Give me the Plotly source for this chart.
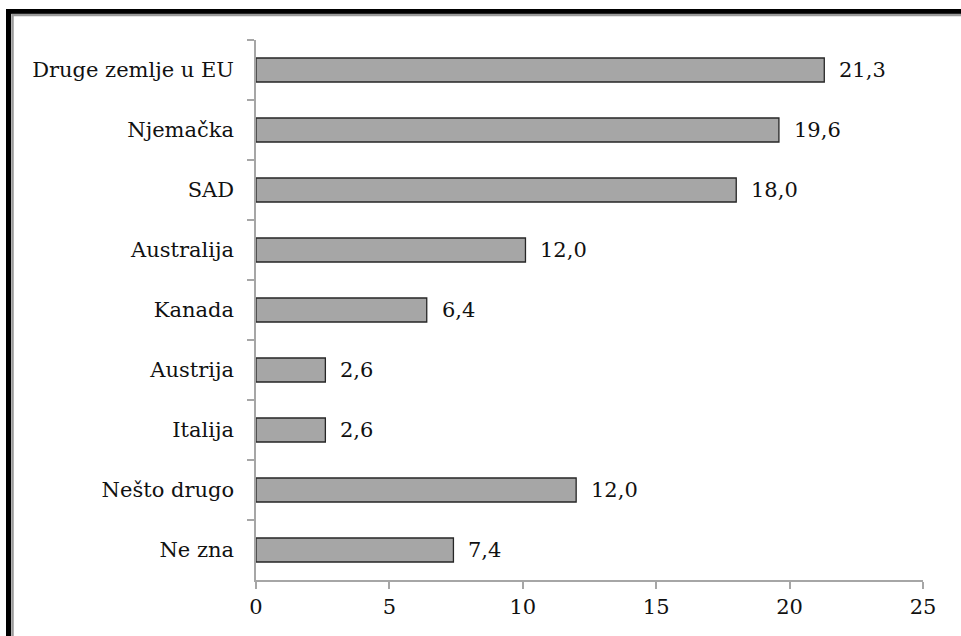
import plotly.graph_objects as go

# categories top to bottom
zemlje = ["Druge zemlje u EU", "Njemačka", "SAD", "Australija", "Kanada",
          "Austrija", "Italija", "Nešto drugo", "Ne zna"]
# bar lengths as drawn in the picture
vrijednosti = [21.3, 19.6, 18.0, 10.1, 6.4, 2.6, 2.6, 12.0, 7.4]
# labels printed next to the bars
oznake = ["21,3", "19,6", "18,0", "12,0", "6,4", "2,6", "2,6", "12,0", "7,4"]
x_ticks = [0, 5, 10, 15, 20, 25]

font_serif = "DejaVu Serif"
fs = 21

fig = go.Figure(go.Bar(
    y=zemlje,
    x=vrijednosti,
    orientation="h",
    marker=dict(color="#a6a6a6", line=dict(color="#262626", width=1.3)),
    width=0.4,
    hoverinfo="skip",
))

# value labels to the right of the bars
for z, v, o in zip(zemlje, vrijednosti, oznake):
    fig.add_annotation(x=v, y=z, text=o, showarrow=False, xanchor="left",
                       xshift=13, font=dict(family=font_serif, size=fs, color="#111"))

# left / top frame like the original screenshot (paper coords of plot area)
L, R, T, B = 256, 923, 40, 580
def px(x):
    return (x - L) / (R - L)
def py(y):
    return (B - y) / (B - T)

fig.add_shape(type="rect", xref="paper", yref="paper",
              x0=px(8.5), x1=px(1000), y0=py(11.5), y1=py(700),
              line=dict(color="black", width=5), layer="below")
fig.add_shape(type="rect", xref="paper", yref="paper",
              x0=px(12.5), x1=px(1000), y0=py(15), y1=py(700),
              line=dict(color="#9a9a9a", width=2.5), layer="below")

fig.update_layout(
    width=961, height=636,
    margin=dict(l=L, r=961 - R, t=T, b=636 - B),
    plot_bgcolor="white", paper_bgcolor="white",
    showlegend=False,
    font=dict(family=font_serif, size=fs, color="#111"),
    xaxis=dict(range=[0, 25], tickvals=x_ticks, showgrid=False, zeroline=False,
               showline=True, linecolor="#a6a6a6", linewidth=1.5,
               ticks="outside", ticklen=7, tickcolor="#a6a6a6", tickwidth=1.5,
               tickfont=dict(family=font_serif, size=fs)),
    yaxis=dict(autorange="reversed", showgrid=False, zeroline=False,
               showline=True, linecolor="#a6a6a6", linewidth=1.5,
               ticks="outside", ticklen=7, tickcolor="#a6a6a6", tickwidth=1.5,
               tickson="boundaries", ticklabelstandoff=16,
               tickfont=dict(family=font_serif, size=fs)),
)

# page has a default 8px body margin; drop it so the figure sits at 0,0
fig.write_html("out.html", config={"displayModeBar": False},
               post_script="document.body.style.margin='0';")
